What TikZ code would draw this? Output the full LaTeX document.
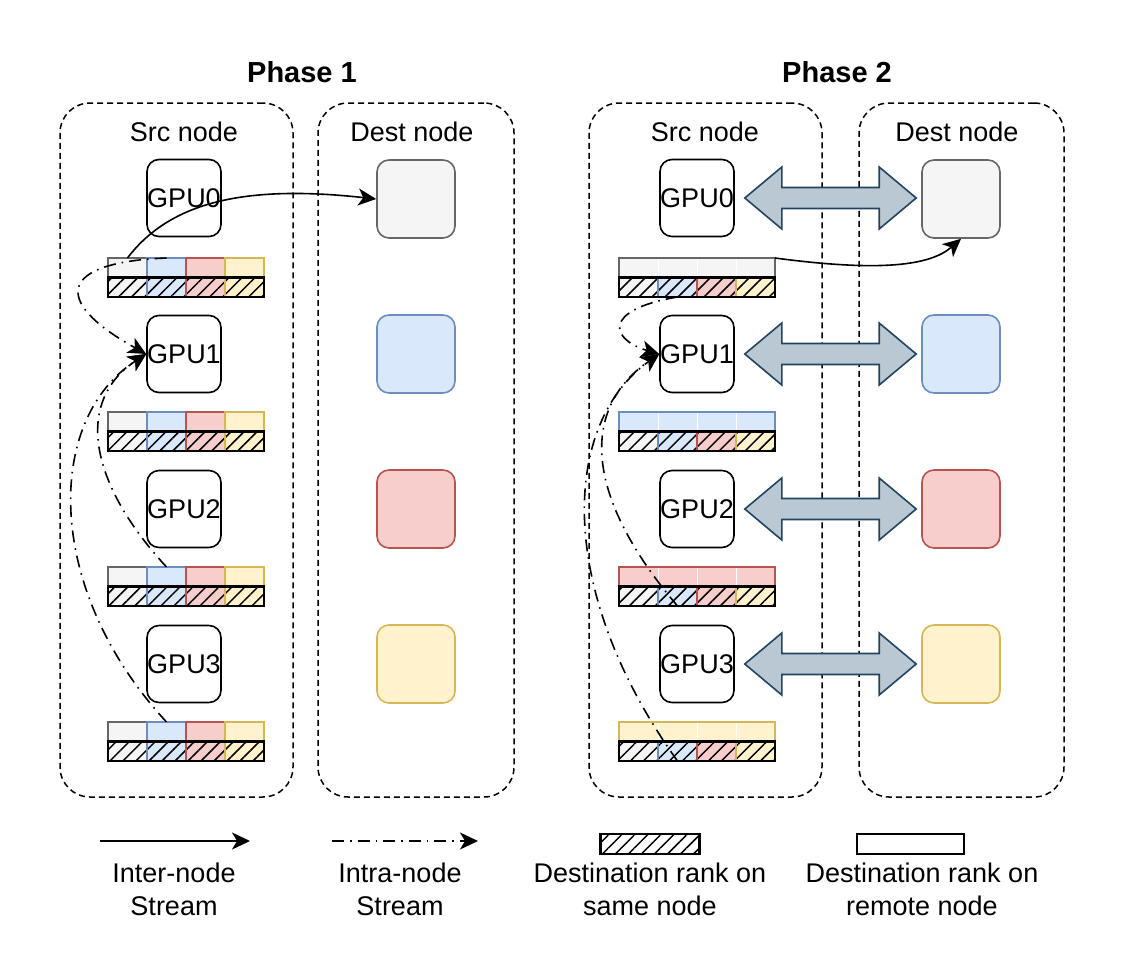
\documentclass[tikz,border=0pt]{standalone}
\usepackage{fontspec}
\setmainfont{Liberation Sans}
\usepackage{xcolor}
\usetikzlibrary{positioning, arrows.meta, calc, patterns.meta}

\definecolor{fill0}{HTML}{F5F5F5}\definecolor{line0}{HTML}{666666}
\definecolor{fill1}{HTML}{DAE8FC}\definecolor{line1}{HTML}{6C8EBF}
\definecolor{fill2}{HTML}{F8CECC}\definecolor{line2}{HTML}{B85450}
\definecolor{fill3}{HTML}{FFF2CC}\definecolor{line3}{HTML}{D6B656}
\definecolor{bifill}{HTML}{BAC8D3}\definecolor{biline}{HTML}{23445D}

% send buffer, phase 1: one cell per destination rank on both rows
\newcommand{\srcbufA}[2]{%
  \foreach \k in {0,...,3}{
    \node[cell, fill=fill\k, draw=line\k, anchor=north west] (#1t\k) at ($(#2)+(39*\k,0)$) {};
    \node[hcell, preaction={fill=fill\k}, draw=line\k, below=0pt of #1t\k] (#1h\k) {};
  }
  \draw[line width=1.1pt] (#1h0.north west) rectangle (#1h3.south east);
}
% send buffer, phase 2: top row holds the data of one rank
\newcommand{\srcbufB}[3]{%
  \node[cell, minimum width=78pt, fill=fill#3, draw=line#3, anchor=north west] (#1t) at (#2) {};
  \foreach \k in {1,2,3}
    \draw[white, line width=0.3pt] ($(#1t.north west)+(39*\k,1)$) -- ($(#1t.south west)+(39*\k,-1)$);
  \foreach \k in {0,...,3}
    \node[hcell, preaction={fill=fill\k}, draw=line\k, anchor=north west] (#1h\k) at ($(#1t.south west)+(39*\k,0)$) {};
  \draw[line width=1.1pt] (#1h0.north west) rectangle (#1h3.south east);
}
% fat two-headed arrow between a GPU and its peer
\newcommand{\biarrow}[2]{%
  \path[bigarr] let \p1=($(#1.east)+(10,0)$), \p2=($(#2.west)+(-5,0)$) in
    (\x1,\y1) -- (\x1+18.5pt,\y1+15.5pt) -- (\x1+18.5pt,\y1+5.25pt) -- (\x2-18.5pt,\y1+5.25pt)
    -- (\x2-18.5pt,\y1+15.5pt) -- (\x2,\y1) -- (\x2-18.5pt,\y1-15.5pt) -- (\x2-18.5pt,\y1-5.25pt)
    -- (\x1+18.5pt,\y1-5.25pt) -- (\x1+18.5pt,\y1-15.5pt) -- cycle;
}

\begin{document}
\begin{tikzpicture}[
  x=0.5pt, y=-0.5pt,
  every node/.style={font=\fontsize{13.5}{16.5}\selectfont},
  hd/.style={font=\fontsize{14.5}{17}\selectfont\bfseries},
  grp/.style={draw, dash pattern=on 3pt off 2pt, line width=0.75pt, rounded corners=15pt, minimum height=347pt, inner sep=0},
  gpu/.style={draw, fill=white, line width=0.8pt, rounded corners=6pt, minimum width=37pt, minimum height=38.5pt, inner sep=0},
  sq/.style={line width=0.8pt, rounded corners=6pt, minimum size=39pt, inner sep=0},
  cell/.style={minimum width=19.5pt, minimum height=9.75pt, inner sep=0, outer sep=0, line width=0.7pt},
  hcell/.style={cell, pattern={Lines[angle=45, distance=4.6pt, line width=0.75pt]}},
  ar/.style={-{Stealth[length=9pt, width=8.5pt, inset=2.5pt]}, line width=0.8pt},
  dd/.style={ar, dash pattern=on 6pt off 3pt on 0.8pt off 3pt},
  bigarr/.style={draw=biline, fill=bifill, line width=0.8pt, line join=miter},
]
\useasboundingbox (0,0) rectangle (1126,975);

% Phase 1
\node[hd] (ph1) at (302,72) {Phase 1};
\node[grp, minimum width=116.5pt] (src1) at (176.5,450) {};
\node (src1lbl) at (184,132) {Src node};
\node[grp, minimum width=98pt] (dst1) at (416,450) {};
\node (dst1lbl) at (412,132) {Dest node};

\node[gpu] (p1g0) at (184,198) {GPU0};
\node[gpu] (p1g1) at (184,354) {GPU1};
\node[gpu] (p1g2) at (184,509) {GPU2};
\node[gpu] (p1g3) at (184,664) {GPU3};

\node[sq, fill=fill0, draw=line0] (p1d0) at (416,199) {};
\node[sq, fill=fill1, draw=line1] (p1d1) at (416,354) {};
\node[sq, fill=fill2, draw=line2] (p1d2) at (416,509) {};
\node[sq, fill=fill3, draw=line3] (p1d3) at (416,664) {};

\srcbufA{p1b0}{108,258}
\srcbufA{p1b1}{108,412}
\srcbufA{p1b2}{108,567}
\srcbufA{p1b3}{108,722}

\draw[ar] (p1b0t0.north) .. controls +(44,-58) and +(-127,-14) .. (p1d0.west);
\draw[dd] (p1b0t1.north) .. controls +(-106,4) and +(-97,-54) .. (p1g1.west);
\draw[dd] (p1b2t1.north) .. controls +(-80,-87) and +(-70,46) .. (p1g1.west);
\draw[dd] (p1b3t1.north) .. controls +(-122,-132) and +(-102,66) .. (p1g1.west);

% Phase 2
\node[hd] (ph2) at (837,72) {Phase 2};
\node[grp, minimum width=116.5pt] (src2) at (705.5,450) {};
\node (src2lbl) at (705,132) {Src node};
\node[grp, minimum width=102.5pt] (dst2) at (961.5,450) {};
\node (dst2lbl) at (957,132) {Dest node};

\node[gpu] (p2g0) at (697,198) {GPU0};
\node[gpu] (p2g1) at (697,354) {GPU1};
\node[gpu] (p2g2) at (697,509) {GPU2};
\node[gpu] (p2g3) at (697,664) {GPU3};

\node[sq, fill=fill0, draw=line0] (p2d0) at (961,199) {};
\node[sq, fill=fill1, draw=line1] (p2d1) at (961,354) {};
\node[sq, fill=fill2, draw=line2] (p2d2) at (961,509) {};
\node[sq, fill=fill3, draw=line3] (p2d3) at (961,664) {};

\srcbufB{p2b0}{619,258}{0}
\srcbufB{p2b1}{619,412}{1}
\srcbufB{p2b2}{619,567}{2}
\srcbufB{p2b3}{619,722}{3}

\biarrow{p2g0}{p2d0}
\biarrow{p2g1}{p2d1}
\biarrow{p2g2}{p2d2}
\biarrow{p2g3}{p2d3}

\draw[ar] (p2b0t.north east) .. controls +(105,14) and +(-31,27) .. (p2d0.south);
\draw[dd] (p2b0h1.south) .. controls +(-77,13) and +(-48,-14) .. (p2g1.west);
\draw[dd] (p2b2h1.south) .. controls +(-95,-112) and +(-78,54) .. (p2g1.west);
\draw[dd] (p2b3h1.south) .. controls +(-122,-170) and +(-98,70) .. (p2g1.west);

% Legend
\coordinate (lgA1) at (100,841);
\coordinate (lgA2) at (250,841);
\draw[ar] (lgA1) -- (lgA2);
\node[align=center] (lgAtxt) at (174,889) {Inter-node\\Stream};
\coordinate (lgB1) at (332,841);
\coordinate (lgB2) at (478,841);
\draw[dd] (lgB1) -- (lgB2);
\node[align=center] (lgBtxt) at (400,889) {Intra-node\\Stream};
\node[hcell, minimum width=49.5pt, draw, line width=1.1pt] (lgH) at (650,844) {};
\node[align=center] (lgHtxt) at (650,889) {Destination rank on\\same node};
\node[cell, minimum width=53.5pt, draw, line width=0.9pt] (lgW) at (910.5,844) {};
\node[align=center] (lgWtxt) at (922,889) {Destination rank on\\remote node};
\end{tikzpicture}
\end{document}
